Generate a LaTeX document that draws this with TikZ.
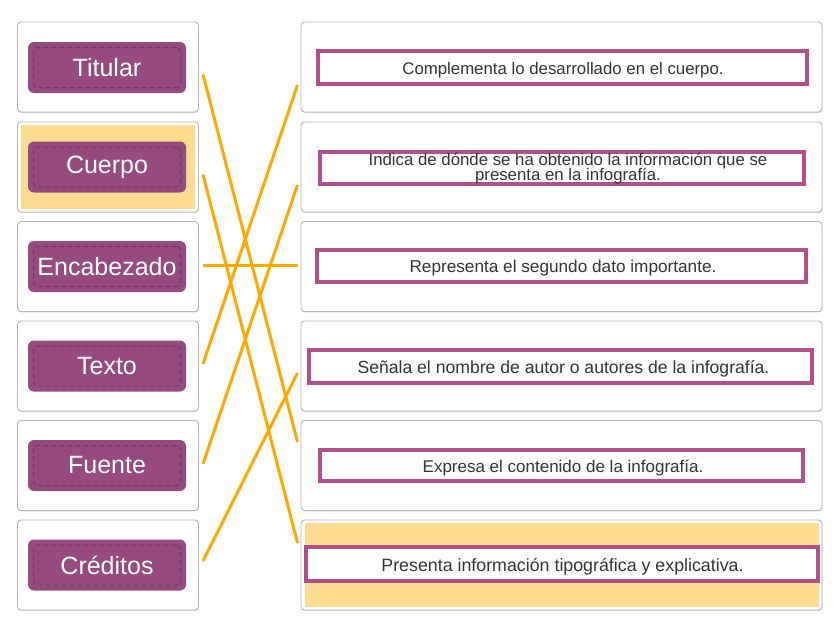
\documentclass[tikz,border=0pt]{standalone}
\usepackage{fontspec}
\setmainfont{Liberation Sans}
\usetikzlibrary{shadows}
\definecolor{boxline}{HTML}{B5B5B5}
\definecolor{lpurple}{HTML}{974A80}
\definecolor{ldash}{HTML}{743964}
\definecolor{rpurple}{HTML}{B3508B}
\definecolor{hl}{HTML}{FDDC8F}
\definecolor{conn}{HTML}{FFA800}
\definecolor{txt}{HTML}{353535}
\begin{document}
\lineskiplimit=-20pt\relax
\begin{tikzpicture}[x=1pt,y=-1pt,
  card/.style={draw=boxline, line width=0.9pt, rounded corners=3.5pt, fill=white,
    drop shadow={shadow xshift=0.4pt, shadow yshift=-0.8pt, opacity=0.18, fill=black},
    minimum height=90pt, inner sep=0pt},
  lcard/.style={card, minimum width=181pt},
  rcard/.style={card, minimum width=521pt},
  hlbox/.style={fill=hl, draw=none, inner sep=0pt, minimum height=84pt},
  tag/.style={fill=lpurple, draw=none, rounded corners=6pt, minimum width=158pt, minimum height=51pt,
    inner sep=0pt, text=white, font=\fontsize{25}{28}\selectfont},
  tagdash/.style={draw=ldash, dashed, dash pattern=on 5pt off 3pt, line width=1pt, rounded corners=4pt,
    minimum width=147pt, minimum height=40pt, inner sep=0pt},
  ans/.style={draw=rpurple, line width=4pt, fill=white, inner sep=0pt, minimum height=33pt},
  anstext/.style={inner sep=0pt, text=txt, align=center,
    font=\fontsize{#1}{15}\selectfont},
  link/.style={draw=conn, line width=3pt}
]
\useasboundingbox (0,0) rectangle (836,629);

% left cards
\node[lcard] (c1) at (108,67)  {};
\node[lcard] (c2) at (108,167) {};
\node[lcard] (c3) at (108,266.5) {};
\node[lcard] (c4) at (108,366) {};
\node[lcard] (c5) at (108,465.5) {};
\node[lcard] (c6) at (108,565) {};
\node[hlbox, minimum width=174pt] (h1) at (108,167) {};

% right cards
\node[rcard] (d1) at (561.5,67)  {};
\node[rcard] (d2) at (561.5,167) {};
\node[rcard] (d3) at (561.5,266.5) {};
\node[rcard] (d4) at (561.5,366) {};
\node[rcard] (d5) at (561.5,465.5) {};
\node[rcard] (d6) at (561.5,565) {};
\node[hlbox, minimum width=514pt] (h2) at (562,565) {};

% left tags
\foreach \n/\y/\t in {t1/67.5/Titular, t2/167/Cuerpo, t3/266.5/Encabezado, t4/366/Texto, t5/465.5/Fuente, t6/565/Créditos}{
  \node[tag] (\n) at (107,\y) {\t};
  \node[tagdash] (\n d) at (107,\y) {};
}

% right answer frames
\node[ans, minimum width=489pt] (a1) at (562.5,67.5) {};
\node[ans, minimum width=484pt, minimum height=32pt] (a2) at (562,168) {};
\node[ans, minimum width=489pt, minimum height=32pt] (a3) at (561.5,266) {};
\node[ans, minimum width=503pt] (a4) at (560.5,366.5) {};
\node[ans, minimum width=483pt, minimum height=31pt] (a5) at (561.5,465.5) {};
\node[ans, minimum width=512pt, minimum height=34pt] (a6) at (562,564) {};

% answer texts
\node[anstext=16.8] (a1t) at (563,70) {Complementa lo desarrollado en el cuerpo.};
\node[anstext=16.8] (a2t) at (568,169) {Indica de dónde se ha obtenido la información que se\\presenta en la infografía.};
\node[anstext=17.2] (a3t) at (563,268.5) {Representa el segundo dato importante.};
\node[anstext=17.6] (a4t) at (563.5,369) {Señala el nombre de autor o autores de la infografía.};
\node[anstext=17.0] (a5t) at (563,468) {Expresa el contenido de la infografía.};
\node[anstext=17.8] (a6t) at (562.5,566.5) {Presenta información tipográfica y explicativa.};

% connector ends
\coordinate (l1) at (203,74.5);
\coordinate (l2) at (203,174.5);
\coordinate (l3) at (203,265);
\coordinate (l4) at (203,364);
\coordinate (l5) at (203,464);
\coordinate (l6) at (203,561);
\coordinate (r1) at (297.5,85);
\coordinate (r2) at (297.5,185);
\coordinate (r3) at (297.5,265);
\coordinate (r4) at (297.5,373);
\coordinate (r5) at (297.5,442);
\coordinate (r6) at (297.5,543);

\draw[link] (l1) -- (r5);
\draw[link] (l2) -- (r6);
\draw[link] (l3) -- (r3);
\draw[link] (l4) -- (r1);
\draw[link] (l5) -- (r2);
\draw[link] (l6) -- (r4);
\end{tikzpicture}
\end{document}
